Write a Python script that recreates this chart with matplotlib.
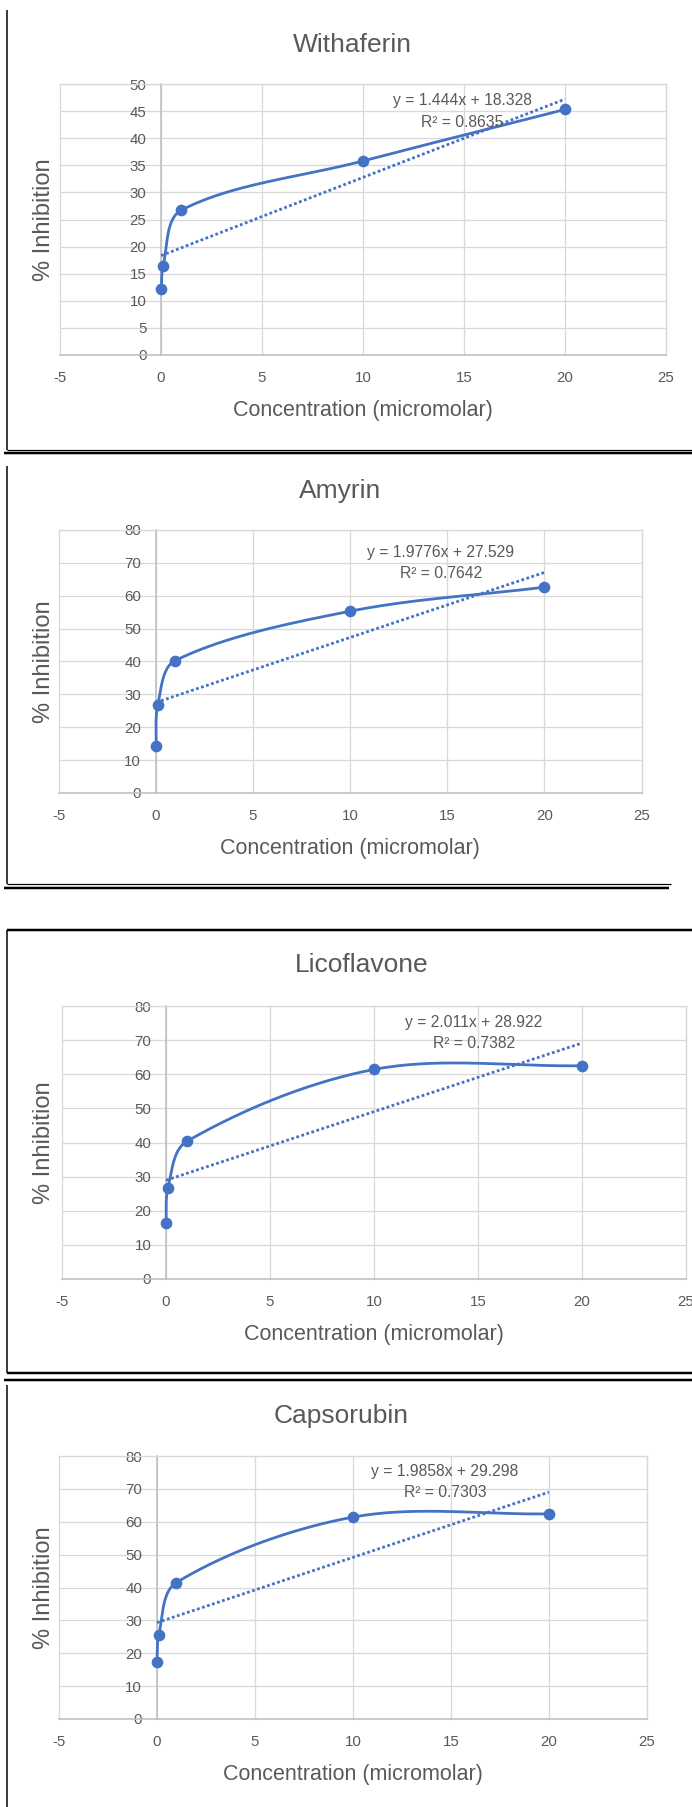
import matplotlib

matplotlib.use("Agg")
import matplotlib.pyplot as plt
import numpy as np
from matplotlib.lines import Line2D

# ---- data ----
compounds = ["Withaferin", "Amyrin", "Licoflavone", "Capsorubin"]
concentration = [0.01, 0.1, 1, 10, 20]

withaferin_inhibition = [12.2, 16.4, 26.7, 35.8, 45.3]
amyrin_inhibition = [14.3, 26.7, 40.3, 55.3, 62.6]
licoflavone_inhibition = [16.4, 26.6, 40.3, 61.4, 62.5]
capsorubin_inhibition = [17.4, 25.5, 41.5, 61.4, 62.4]
inhibition = [withaferin_inhibition, amyrin_inhibition, licoflavone_inhibition, capsorubin_inhibition]

trend_slope = [1.444, 1.9776, 2.011, 1.9858]
trend_intercept = [18.328, 27.529, 28.922, 29.298]
r_squared = ["0.8635", "0.7642", "0.7382", "0.7303"]

y_max = [50, 80, 80, 80]
y_step = [5, 10, 10, 10]
x_ticks = [-5, 0, 5, 10, 15, 20, 25]

# ---- layout (pixels in the 692x1807 image) ----
W, H = 692, 1807
plot_boxes = [(60, 666, 84, 355), (58.7, 641.5, 530, 793), (61.8, 686, 1006, 1279), (58.7, 647, 1456, 1719)]
title_pos = [(352, 52), (340, 498), (362, 972), (341, 1423)]
eq_pos = [(462, 105, 127), (441, 557, 578), (474, 1027, 1048), (445, 1476, 1497)]

# black frame lines around each pasted chart: x0, y0, x1, y1, width(px)
frame_lines = [
    (7, 10, 7, 450, 1.5),
    (7, 450, 692, 450, 1.2),
    (3.5, 452.7, 692, 452.7, 2.5),
    (7, 466, 7, 884, 1.5),
    (7, 884, 671, 884, 1.2),
    (3.5, 888, 669, 888, 2.5),
    (7, 930.5, 692, 930.5, 2.5),
    (7, 930.5, 7, 1373, 1.5),
    (7, 1373, 692, 1373, 2.5),
    (3.5, 1380, 692, 1380, 2.5),
    (7, 1385, 7, 1807, 1.5),
]

BLUE = "#4472C4"
TEXT = "#595959"
GRID = "#d9d9d9"
AXIS = "#bfbfbf"
PT = 0.72  # one pixel in points at dpi 100

plt.rcParams["font.family"] = ["Liberation Sans", "DejaVu Sans"]
plt.rcParams["axes.unicode_minus"] = False


def excel_smooth(ax, xs, ys, n=60):
    """Smoothed line like Excel: Bezier segments in screen space, control arms
    scaled by the neighbouring segment lengths so short steps do not overshoot."""
    pts = ax.transData.transform(np.column_stack([xs, ys]))
    ext = np.vstack([pts[0], pts, pts[-1]])
    t = np.linspace(0, 1, n)[:, None]
    segs = []
    for i in range(len(pts) - 1):
        p0, p1, p2, p3 = ext[i], ext[i + 1], ext[i + 2], ext[i + 3]
        d01 = np.hypot(*(p1 - p0))
        d12 = np.hypot(*(p2 - p1))
        d23 = np.hypot(*(p3 - p2))
        f1 = d12 / (3 * (d01 + d12)) if d01 + d12 > 0 else 0
        f2 = d12 / (3 * (d12 + d23)) if d12 + d23 > 0 else 0
        c1 = p1 + (p2 - p0) * f1
        c2 = p2 - (p3 - p1) * f2
        seg = (1 - t) ** 3 * p1 + 3 * (1 - t) ** 2 * t * c1 + 3 * (1 - t) * t ** 2 * c2 + t ** 3 * p2
        segs.append(seg if i == 0 else seg[1:])
    curve = ax.transData.inverted().transform(np.vstack(segs))
    return curve[:, 0], curve[:, 1]


fig = plt.figure(figsize=(W / 100, H / 100), dpi=100)
fig.patch.set_facecolor("white")

for k, name in enumerate(compounds):
    left, right, top, bottom = plot_boxes[k]
    ax = fig.add_axes([left / W, 1 - bottom / H, (right - left) / W, (bottom - top) / H])
    ax.set_xlim(-5, 25)
    ax.set_ylim(0, y_max[k])
    ax.set_xticks(x_ticks)
    ax.set_xticklabels([str(v) for v in x_ticks])
    yt = list(range(0, y_max[k] + 1, y_step[k]))
    ax.set_yticks(yt)
    ax.set_yticklabels([str(v) for v in yt])

    ax.set_axisbelow(True)
    ax.grid(True, color=GRID, linewidth=1.3 * PT)
    for gl in ax.get_xgridlines() + ax.get_ygridlines():
        gl.set_clip_on(False)

    ax.spines["left"].set_position(("data", 0))
    ax.spines["left"].set_color(AXIS)
    ax.spines["left"].set_linewidth(1.6 * PT)
    ax.spines["bottom"].set_color(AXIS)
    ax.spines["bottom"].set_linewidth(1.6 * PT)
    for side in ("top", "right"):
        ax.spines[side].set_color(GRID)
        ax.spines[side].set_linewidth(1.3 * PT)

    ax.tick_params(axis="both", length=0, colors=TEXT, labelsize=10.8)
    ax.tick_params(axis="x", pad=11.5)
    ax.tick_params(axis="y", pad=10.5)

    ph = bottom - top
    ax.set_xlabel("Concentration (micromolar)", fontsize=15.5, color=TEXT, va="baseline")
    ax.xaxis.set_label_coords(0.5, -61 / ph)
    ax.set_ylabel("% Inhibition", fontsize=17, color=TEXT, va="center")
    ax.yaxis.set_label_coords((44 - left) / (right - left), 0.5)

    # linear trendline (dotted) from the fitted equation
    tx = np.array([min(concentration), max(concentration)])
    ax.plot(tx, trend_slope[k] * tx + trend_intercept[k], color=BLUE, linewidth=2.0,
            linestyle=(0, (1, 0.9)), dash_capstyle="butt", zorder=3)

    sx, sy = excel_smooth(ax, concentration, inhibition[k])
    ax.plot(sx, sy, color=BLUE, linewidth=2.0, solid_capstyle="round", zorder=4)
    ax.plot(concentration, inhibition[k], "o", color=BLUE, markersize=7.4, zorder=5, clip_on=False)

    # title and trendline label
    tx_px, ty_px = title_pos[k]
    fig.text(tx_px / W, 1 - ty_px / H, name, fontsize=19, color=TEXT, ha="center", va="baseline")
    ex, ey1, ey2 = eq_pos[k]
    fig.text(ex / W, 1 - ey1 / H, f"y = {trend_slope[k]}x + {trend_intercept[k]}",
             fontsize=11.3, color=TEXT, ha="center", va="baseline")
    fig.text(ex / W, 1 - ey2 / H, f"R\u00b2 = {r_squared[k]}",
             fontsize=11.3, color=TEXT, ha="center", va="baseline")

for x0, y0, x1, y1, w in frame_lines:
    fig.add_artist(Line2D([x0 / W, x1 / W], [1 - y0 / H, 1 - y1 / H], transform=fig.transFigure,
                          color="black", linewidth=w * PT, solid_capstyle="butt"))

fig.savefig("out.png", dpi=100)
plt.close(fig)
